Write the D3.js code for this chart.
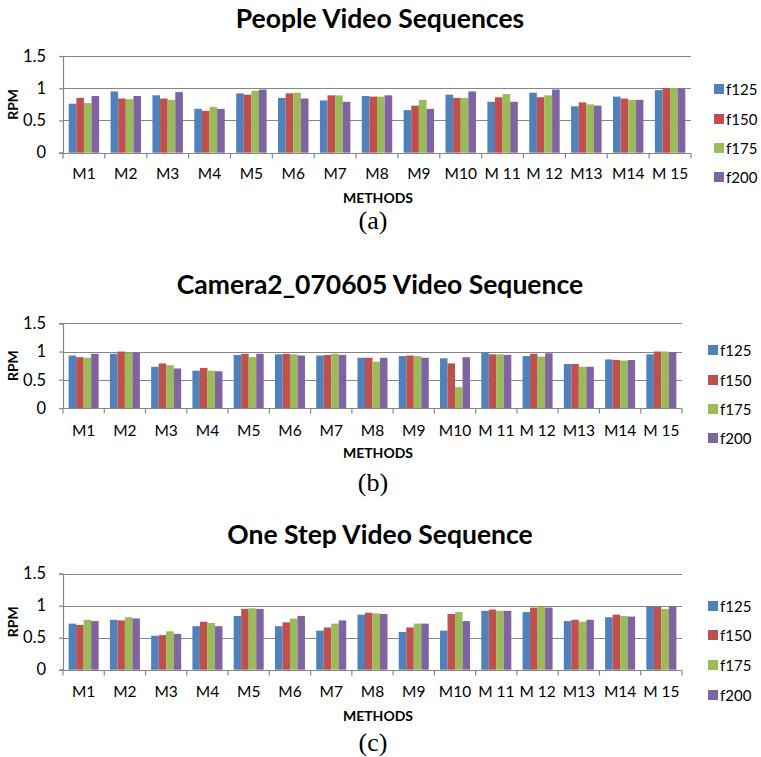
<!DOCTYPE html>
<html>
<head>
<meta charset="utf-8">
<script src="https://cdn.jsdelivr.net/npm/d3@7/dist/d3.min.js"></script>
<style>
  html, body { margin: 0; padding: 0; background: #fff; }
  svg { display: block; font-family: Lato, "Open Sans", sans-serif; }
</style>
</head>
<body>
<div id="chart"></div>
<script>
const methods = ['M1', 'M2', 'M3', 'M4', 'M5', 'M6', 'M7', 'M8', 'M9', 'M10', 'M 11', 'M 12', 'M13', 'M14', 'M 15'];
const seriesNames = ['f125', 'f150', 'f175', 'f200'];
const seriesColors = ['#4F81BD', '#C0504D', '#9BBB59', '#8064A2'];
const yTicks = [0, 0.5, 1, 1.5];

// one row per method: f125, f150, f175, f200
const peopleValues = [
  [0.76, 0.85, 0.77, 0.88],
  [0.95, 0.84, 0.83, 0.88],
  [0.89, 0.84, 0.82, 0.94],
  [0.68, 0.65, 0.71, 0.68],
  [0.92, 0.90, 0.96, 0.98],
  [0.85, 0.92, 0.93, 0.84],
  [0.81, 0.89, 0.89, 0.79],
  [0.88, 0.87, 0.87, 0.89],
  [0.66, 0.73, 0.82, 0.68],
  [0.90, 0.85, 0.85, 0.95],
  [0.79, 0.86, 0.91, 0.79],
  [0.93, 0.86, 0.89, 0.98],
  [0.72, 0.78, 0.75, 0.73],
  [0.87, 0.84, 0.82, 0.82],
  [0.97, 1.00, 1.00, 1.00]
];

const cameraValues = [
  [0.93, 0.90, 0.89, 0.96],
  [0.96, 1.00, 0.98, 0.98],
  [0.73, 0.79, 0.76, 0.70],
  [0.66, 0.71, 0.66, 0.65],
  [0.94, 0.96, 0.90, 0.96],
  [0.95, 0.96, 0.95, 0.93],
  [0.93, 0.94, 0.96, 0.94],
  [0.89, 0.89, 0.82, 0.89],
  [0.92, 0.93, 0.92, 0.89],
  [0.88, 0.79, 0.37, 0.90],
  [0.98, 0.95, 0.95, 0.94],
  [0.92, 0.96, 0.91, 0.97],
  [0.78, 0.78, 0.73, 0.73],
  [0.86, 0.85, 0.84, 0.85],
  [0.95, 1.00, 1.00, 0.99]
];

const oneStepValues = [
  [0.72, 0.70, 0.78, 0.76],
  [0.78, 0.77, 0.82, 0.80],
  [0.53, 0.54, 0.60, 0.56],
  [0.68, 0.75, 0.73, 0.68],
  [0.84, 0.95, 0.96, 0.95],
  [0.68, 0.74, 0.80, 0.84],
  [0.61, 0.66, 0.72, 0.77],
  [0.86, 0.89, 0.88, 0.87],
  [0.59, 0.66, 0.72, 0.72],
  [0.61, 0.87, 0.90, 0.76],
  [0.92, 0.94, 0.92, 0.92],
  [0.90, 0.97, 0.99, 0.97],
  [0.76, 0.78, 0.75, 0.78],
  [0.82, 0.86, 0.84, 0.83],
  [0.99, 0.98, 0.95, 0.99]
];

const panels = [
  { title: 'People Video Sequences', caption: '(a)', values: peopleValues,
    titleY: 28, plotTop: 56, plotBottom: 152.7, plotRight: 691,
    labelY: 179, methodsY: 203, captionY: 229, legendX: 714, legendY: [89, 119, 148, 177] },
  { title: 'Camera2_070605 Video Sequence', caption: '(b)', values: cameraValues,
    titleY: 294, plotTop: 323.3, plotBottom: 408, plotRight: 682,
    labelY: 436, methodsY: 458, captionY: 491, legendX: 708, legendY: [350, 380, 409, 438] },
  { title: 'One Step Video Sequence', caption: '(c)', values: oneStepValues,
    titleY: 544, plotTop: 573.7, plotBottom: 669.7, plotRight: 682,
    labelY: 697, methodsY: 721, captionY: 751, legendX: 708, legendY: [606, 635, 665, 695] }
];

const width = 761;
const height = 757;
const plotLeft = 63;
const axisColor = '#868686';

const svg = d3.select('#chart')
  .append('svg')
  .attr('width', width)
  .attr('height', height);

panels.forEach(p => drawPanel(p));

function drawPanel(p) {
  const g = svg.append('g');

  const x = d3.scaleBand()
    .domain(methods)
    .range([plotLeft, p.plotRight]);

  // excel style: gap width 150% of one bar
  const barW = x.bandwidth() / 5.5;
  const xs = d3.scaleBand()
    .domain(seriesNames)
    .range([barW * 0.75, barW * 4.75]);

  const y = d3.scaleLinear()
    .domain([0, 1.5])
    .range([p.plotBottom, p.plotTop]);

  // gridlines
  g.append('g')
    .selectAll('line')
    .data(yTicks.filter(t => t > 0))
    .enter()
    .append('line')
    .attr('x1', plotLeft)
    .attr('x2', p.plotRight)
    .attr('y1', d => Math.round(y(d)) + 0.5)
    .attr('y2', d => Math.round(y(d)) + 0.5)
    .attr('stroke', axisColor)
    .attr('stroke-width', 1.2);

  // bars
  const groups = g.append('g')
    .selectAll('g')
    .data(p.values)
    .enter()
    .append('g')
    .attr('transform', (d, i) => `translate(${x(methods[i])},0)`);

  groups.selectAll('rect')
    .data(d => d.map((v, j) => ({ key: seriesNames[j], value: v, color: seriesColors[j] })))
    .enter()
    .append('rect')
    .attr('x', d => xs(d.key))
    .attr('width', xs.bandwidth())
    .attr('y', d => y(d.value))
    .attr('height', d => y(0) - y(d.value))
    .attr('fill', d => d.color);

  // y axis
  const yAxis = g.append('g')
    .attr('transform', `translate(${plotLeft},0)`)
    .call(d3.axisLeft(y).tickValues(yTicks).tickFormat(d => d).tickSize(4).tickPadding(13));
  yAxis.attr('font-family', null);
  yAxis.select('.domain').attr('stroke', axisColor).attr('stroke-width', 1.2);
  yAxis.selectAll('.tick line').attr('stroke', axisColor).attr('stroke-width', 1.2);
  yAxis.selectAll('.tick text')
    .attr('font-size', 16.5)
    .attr('fill', '#000');

  // x axis line and ticks at category boundaries
  const bottom = Math.round(y(0)) + 0.5;
  g.append('line')
    .attr('x1', plotLeft)
    .attr('x2', p.plotRight)
    .attr('y1', bottom)
    .attr('y2', bottom)
    .attr('stroke', axisColor)
    .attr('stroke-width', 1.2);

  const bounds = methods.map(m => x(m)).concat([p.plotRight]);
  g.append('g')
    .selectAll('line')
    .data(bounds)
    .enter()
    .append('line')
    .attr('x1', d => d)
    .attr('x2', d => d)
    .attr('y1', bottom)
    .attr('y2', bottom + 5)
    .attr('stroke', axisColor)
    .attr('stroke-width', 1.2);

  g.append('g')
    .selectAll('text')
    .data(methods)
    .enter()
    .append('text')
    .attr('x', d => x(d) + x.bandwidth() / 2)
    .attr('y', p.labelY)
    .attr('text-anchor', 'middle')
    .attr('font-size', 15.5)
    .text(d => d);

  // titles
  g.append('text')
    .attr('x', 380)
    .attr('y', p.titleY)
    .attr('text-anchor', 'middle')
    .attr('font-size', 26.5)
    .attr('font-weight', 'bold')
    .text(p.title);

  g.append('text')
    .attr('x', 378)
    .attr('y', p.methodsY)
    .attr('text-anchor', 'middle')
    .attr('font-size', 14)
    .attr('font-weight', 'bold')
    .text('METHODS');

  g.append('text')
    .attr('transform', `translate(18,${(p.plotTop + p.plotBottom) / 2}) rotate(-90)`)
    .attr('text-anchor', 'middle')
    .attr('font-size', 14)
    .attr('font-weight', 'bold')
    .text('RPM');

  g.append('text')
    .attr('x', 373)
    .attr('y', p.captionY)
    .attr('text-anchor', 'middle')
    .attr('font-family', '"Liberation Serif", "Times New Roman", serif')
    .attr('font-size', 26)
    .text(p.caption);

  // legend
  const legend = g.append('g')
    .selectAll('g')
    .data(seriesNames)
    .enter()
    .append('g')
    .attr('transform', (d, i) => `translate(${p.legendX},${p.legendY[i]})`);

  legend.append('rect')
    .attr('x', 0)
    .attr('y', -5)
    .attr('width', 10)
    .attr('height', 10)
    .attr('fill', (d, i) => seriesColors[i]);

  legend.append('text')
    .attr('x', 12)
    .attr('y', 5.5)
    .attr('font-size', 15)
    .text(d => d);
}
</script>
</body>
</html>
